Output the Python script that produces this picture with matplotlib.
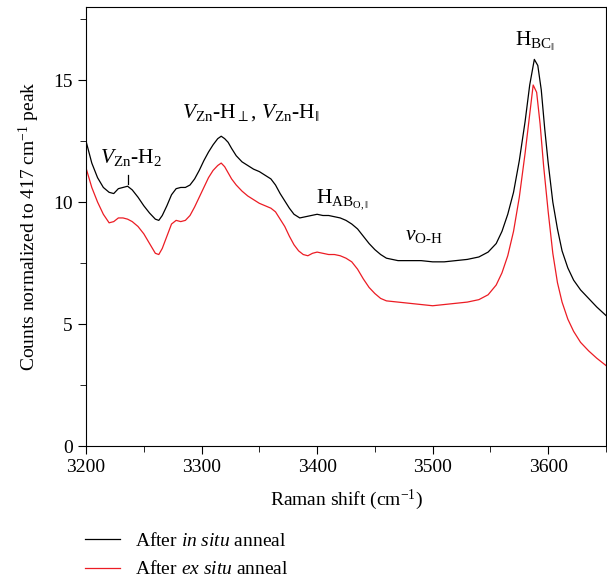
import matplotlib
matplotlib.use("Agg")
import matplotlib.pyplot as plt
from matplotlib.ticker import MultipleLocator

plt.rcParams['font.family'] = ['Liberation Serif', 'DejaVu Serif']
plt.rcParams['mathtext.fontset'] = 'custom'
plt.rcParams['mathtext.rm'] = 'Liberation Serif'
plt.rcParams['mathtext.it'] = 'Liberation Serif:italic'
plt.rcParams['mathtext.bf'] = 'Liberation Serif:bold'

# Raman shift (cm^-1) and normalized counts, after in situ anneal
shift_insitu = [3200, 3205, 3210, 3215, 3220, 3224, 3228, 3232, 3236, 3240,
                3245, 3250, 3255, 3260, 3263, 3266, 3270, 3274, 3278, 3282,
                3286, 3290, 3294, 3298, 3302, 3306, 3310, 3314, 3317, 3320,
                3323, 3326, 3330, 3335, 3340, 3345, 3350, 3355, 3360, 3364,
                3368, 3372, 3376, 3380, 3385, 3390, 3395, 3400, 3405, 3410,
                3415, 3420, 3425, 3430, 3435, 3440, 3445, 3450, 3455, 3460,
                3465, 3470, 3480, 3490, 3500, 3510, 3520, 3530, 3540, 3548,
                3555, 3560, 3565, 3570, 3575, 3580, 3584, 3588, 3591, 3594,
                3597, 3600, 3604, 3608, 3612, 3617, 3622, 3628, 3635, 3642,
                3650]
counts_insitu = [12.5, 11.6, 11.0, 10.6, 10.4, 10.35, 10.55, 10.6, 10.65, 10.5,
                 10.2, 9.85, 9.55, 9.3, 9.25, 9.45, 9.85, 10.3, 10.55, 10.6,
                 10.6, 10.7, 10.95, 11.3, 11.7, 12.05, 12.35, 12.6, 12.7, 12.6,
                 12.45, 12.2, 11.9, 11.65, 11.5, 11.35, 11.25, 11.1, 10.95, 10.7,
                 10.35, 10.05, 9.75, 9.5, 9.35, 9.4, 9.45, 9.5, 9.45, 9.45,
                 9.4, 9.35, 9.25, 9.1, 8.9, 8.6, 8.3, 8.05, 7.85, 7.7,
                 7.65, 7.6, 7.6, 7.6, 7.55, 7.55, 7.6, 7.65, 7.75, 7.95,
                 8.3, 8.8, 9.5, 10.4, 11.7, 13.3, 14.8, 15.85, 15.6, 14.6,
                 13.0, 11.6, 10.0, 8.9, 8.0, 7.3, 6.8, 6.4, 6.05, 5.7,
                 5.35]

# after ex situ anneal
shift_exsitu = [3200, 3205, 3210, 3215, 3220, 3224, 3228, 3232, 3236, 3240,
                3245, 3250, 3255, 3260, 3263, 3266, 3270, 3274, 3278, 3282,
                3286, 3290, 3294, 3298, 3302, 3306, 3310, 3314, 3317, 3320,
                3323, 3326, 3330, 3335, 3340, 3345, 3350, 3355, 3360, 3364,
                3368, 3372, 3376, 3380, 3384, 3388, 3392, 3396, 3400, 3405,
                3410, 3415, 3420, 3425, 3430, 3435, 3440, 3445, 3450, 3455,
                3460, 3470, 3480, 3490, 3500, 3510, 3520, 3530, 3540, 3548,
                3555, 3560, 3565, 3570, 3575, 3580, 3584, 3587, 3590, 3593,
                3596, 3600, 3604, 3608, 3612, 3617, 3622, 3628, 3635, 3642,
                3650]
counts_exsitu = [11.4, 10.6, 10.0, 9.5, 9.15, 9.2, 9.35, 9.35, 9.3, 9.2,
                 9.0, 8.7, 8.3, 7.9, 7.85, 8.1, 8.6, 9.1, 9.25, 9.2,
                 9.25, 9.45, 9.8, 10.2, 10.6, 11.0, 11.3, 11.5, 11.6, 11.45,
                 11.2, 10.95, 10.7, 10.45, 10.25, 10.1, 9.95, 9.85, 9.75, 9.6,
                 9.3, 9.0, 8.6, 8.25, 8.0, 7.85, 7.8, 7.9, 7.95, 7.9,
                 7.85, 7.85, 7.8, 7.7, 7.55, 7.25, 6.85, 6.5, 6.25, 6.05,
                 5.95, 5.9, 5.85, 5.8, 5.75, 5.8, 5.85, 5.9, 6.0, 6.2,
                 6.6, 7.1, 7.8, 8.8, 10.2, 12.0, 13.6, 14.8, 14.5, 13.2,
                 11.5, 9.6, 7.9, 6.7, 5.9, 5.2, 4.7, 4.25, 3.9, 3.6,
                 3.3]

labels = ['After $\\it{in\\ situ}$ anneal', 'After $\\it{ex\\ situ}$ anneal']

fig = plt.figure(figsize=(6.07, 5.79), dpi=100)
ax = fig.add_axes([0.1417, 0.2297, 0.8566, 0.7583])

ax.plot(shift_insitu, counts_insitu, color='black', lw=0.9, label=labels[0])
ax.plot(shift_exsitu, counts_exsitu, color='#ec1c24', lw=0.9, label=labels[1])

ax.set_xlim(3200, 3650)
ax.set_ylim(0, 18)
ax.xaxis.set_major_locator(MultipleLocator(100))
ax.xaxis.set_minor_locator(MultipleLocator(50))
ax.yaxis.set_major_locator(MultipleLocator(5))
ax.yaxis.set_minor_locator(MultipleLocator(2.5))
ax.tick_params(which='both', direction='out', labelsize=14, top=False, right=False)
ax.tick_params(which='major', length=6)
ax.tick_params(which='minor', length=4)

ax.set_xlabel('Raman shift (cm$^{-1}$)', fontsize=14, labelpad=8)
ax.set_ylabel('Counts normalized to 417 cm$^{-1}$ peak', fontsize=14, labelpad=8)

fs = 15.5
ax.text(3212, 11.62, '$V_{\\mathrm{Zn}}$-H$_2$', fontsize=fs, va='baseline')
ax.plot([3236, 3236], [10.75, 11.1], color='black', lw=0.9)
ax.text(3283, 13.47, '$V_{\\mathrm{Zn}}$-H$_{\\perp}$, $V_{\\mathrm{Zn}}$-H$_{\\Vert}$',
        fontsize=fs, va='baseline')
ax.text(3399, 9.97, 'H$_{\\mathrm{AB}_{\\mathrm{O},\\Vert}}$', fontsize=fs, va='baseline')
ax.text(3476, 8.45, '$\\nu_{\\mathrm{O\\text{-}H}}$', fontsize=fs, va='baseline')
ax.text(3571, 16.4, 'H$_{\\mathrm{BC}_{\\Vert}}$', fontsize=fs, va='baseline')

fig.legend(loc='upper left', bbox_to_anchor=(0.128, 0.095), frameon=False,
           fontsize=14, handlelength=1.8, handletextpad=0.75,
           labelspacing=0.55, borderaxespad=0)

fig.savefig('out.png', dpi=100)
